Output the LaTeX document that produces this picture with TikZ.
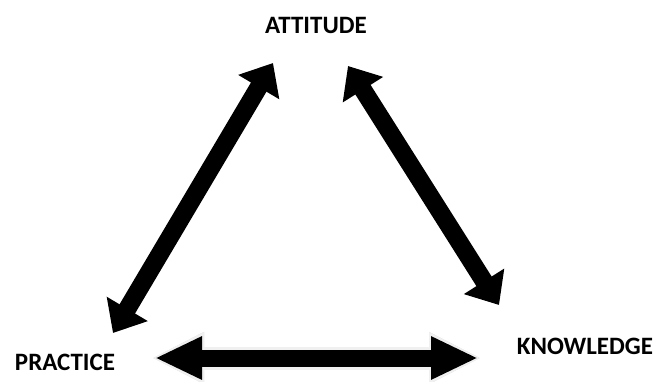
\documentclass[tikz,border=0pt]{standalone}
\usepackage{fontspec}
\setmainfont{Carlito}
\usetikzlibrary{arrows.meta}

\tikzset{
  label/.style={font=\bfseries\fontsize{25}{30}\selectfont, inner sep=0pt},
  bigarrow/.style={line width=18pt, {Triangle[width=46pt,length=28pt]}-{Triangle[width=46pt,length=28pt]}},
  flatarrow/.style={line width=17pt, {Triangle[width=40pt,length=47pt]}-{Triangle[width=40pt,length=47pt]}},
  rimarrow/.style={line width=23pt, gray!12, shorten <=-3pt, shorten >=-3pt,
    {Triangle[width=48pt,length=52pt]}-{Triangle[width=48pt,length=52pt]}}
}

\begin{document}
\begin{tikzpicture}[x=1pt,y=-1pt]
\useasboundingbox (0,0) rectangle (659,382);

% ---------------- labels ----------------
\node[label] (att) at (316,25) {ATTITUDE};
\node[label] (prac) at (65,362) {PRACTICE};
\node[label] (know) at (585,346) {KNOWLEDGE};

% ---------------- arrow ends ----------------
\coordinate (att-l) at (273,63);
\coordinate (prac-t) at (113,333);
\coordinate (att-r) at (348,66);
\coordinate (know-t) at (499,305);
\coordinate (prac-r) at (155,358);
\coordinate (know-l) at (478,358);

% ---------------- arrows ----------------
\draw[bigarrow] (att-l) -- (prac-t);
\draw[bigarrow] (att-r) -- (know-t);

\draw[rimarrow, gray!35, shift={(2,2)}] (prac-r) -- (know-l);
\draw[rimarrow] (prac-r) -- (know-l);
\draw[flatarrow] (prac-r) -- (know-l);

\end{tikzpicture}
\end{document}
